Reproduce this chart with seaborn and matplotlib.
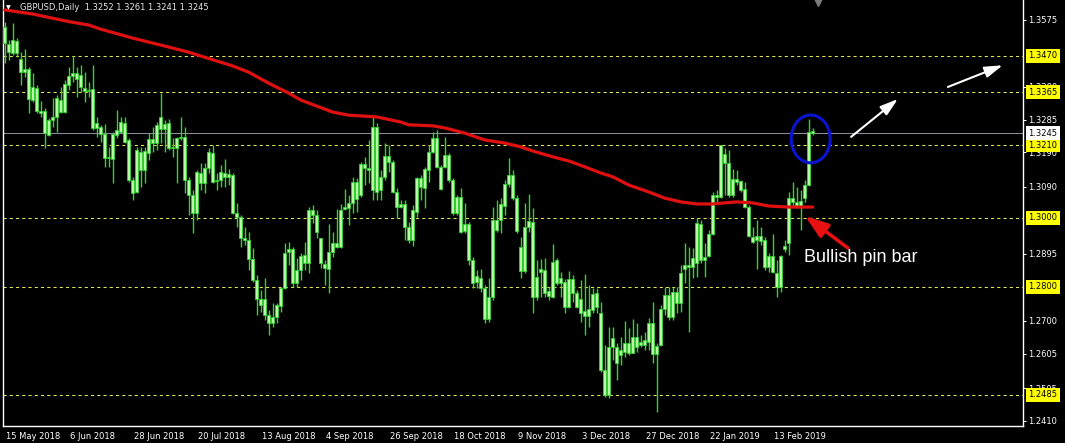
import matplotlib
matplotlib.use("Agg")
import matplotlib.pyplot as plt
import matplotlib.transforms as mtransforms
from matplotlib.patches import Ellipse
import seaborn as sns

# daily GBPUSD candles, 15 May 2018 .. 20 Feb 2019
opens = [
    1.3555, 1.3504, 1.3478, 1.3513, 1.3461, 1.3423, 1.3432, 1.3342, 1.3377, 1.3310,
    1.3310, 1.3240, 1.3284, 1.3293, 1.3342, 1.3307, 1.3385, 1.3412, 1.3420, 1.3415,
    1.3377, 1.3368, 1.3374, 1.3261, 1.3264, 1.3243, 1.3174, 1.3171, 1.3240, 1.3249,
    1.3275, 1.3226, 1.3110, 1.3075, 1.3191, 1.3139, 1.3188, 1.3229, 1.3217, 1.3258,
    1.3272, 1.3275, 1.3203, 1.3203, 1.3232, 1.3234, 1.3110, 1.3066, 1.3014, 1.3130,
    1.3101, 1.3145, 1.3188, 1.3107, 1.3110, 1.3130, 1.3119, 1.3124, 1.3014, 1.3002,
    1.2941, 1.2935, 1.2880, 1.2819, 1.2764, 1.2764, 1.2717, 1.2694, 1.2711, 1.2743,
    1.2796, 1.2900, 1.2909, 1.2810, 1.2848, 1.2868, 1.2868, 1.3022, 1.3008, 1.2941,
    1.2866, 1.2851, 1.2900, 1.2926, 1.2915, 1.3025, 1.3028, 1.3043, 1.3104, 1.3066,
    1.3156, 1.3145, 1.3081, 1.3264, 1.3081, 1.3119, 1.3180, 1.3162, 1.3075, 1.3031,
    1.3040, 1.2973, 1.2935, 1.3017, 1.3116, 1.3087, 1.3139, 1.3191, 1.3232, 1.3148,
    1.3148, 1.3182, 1.3110, 1.3014, 1.3060, 1.2961, 1.2982, 1.2877, 1.2813, 1.2825,
    1.2796, 1.2706, 1.2770, 1.2993, 1.2993, 1.3034, 1.3098, 1.3124, 1.3057, 1.2915,
    1.2845, 1.2973, 1.2988, 1.2770, 1.2842, 1.2848, 1.2787, 1.2770, 1.2877, 1.2810,
    1.2813, 1.2741, 1.2822, 1.2781, 1.2764, 1.2729, 1.2714, 1.2732, 1.2781, 1.2723,
    1.2557, 1.2485, 1.2624, 1.2624, 1.2601, 1.2610, 1.2636, 1.2607, 1.2653, 1.2630,
    1.2630, 1.2639, 1.2694, 1.2604, 1.2630, 1.2735, 1.2775, 1.2711, 1.2784, 1.2752,
    1.2851, 1.2862, 1.2857, 1.2868, 1.2982, 1.2877, 1.2889, 1.2953, 1.3066, 1.3060,
    1.3185, 1.3159, 1.3066, 1.3113, 1.3107, 1.3084, 1.3031, 1.2944, 1.2935, 1.2947,
    1.2935, 1.2857, 1.2889, 1.2839, 1.2799, 1.2909, 1.2926, 1.3057, 1.3046, 1.3034,
    1.3057, 1.3095, 1.3252,
]
highs = [
    1.3569, 1.3516, 1.3566, 1.3522, 1.3481, 1.3490, 1.3438, 1.3420, 1.3385, 1.3339,
    1.3319, 1.3290, 1.3348, 1.3357, 1.3380, 1.3400, 1.3438, 1.3470, 1.3438, 1.3444,
    1.3423, 1.3394, 1.3444, 1.3293, 1.3270, 1.3272, 1.3206, 1.3249, 1.3313, 1.3293,
    1.3293, 1.3232, 1.3119, 1.3206, 1.3206, 1.3206, 1.3246, 1.3264, 1.3278, 1.3362,
    1.3284, 1.3287, 1.3232, 1.3234, 1.3293, 1.3264, 1.3119, 1.3081, 1.3139, 1.3159,
    1.3159, 1.3203, 1.3211, 1.3130, 1.3154, 1.3171, 1.3142, 1.3130, 1.3043, 1.3008,
    1.2973, 1.2958, 1.2912, 1.2834, 1.2790, 1.2825, 1.2732, 1.2752, 1.2752, 1.2799,
    1.2926, 1.2929, 1.2915, 1.2883, 1.2897, 1.2929, 1.3031, 1.3037, 1.3022, 1.2941,
    1.2877, 1.2982, 1.2958, 1.3025, 1.3040, 1.3084, 1.3066, 1.3119, 1.3116, 1.3162,
    1.3177, 1.3226, 1.3296, 1.3275, 1.3139, 1.3217, 1.3211, 1.3168, 1.3087, 1.3051,
    1.3051, 1.2988, 1.3037, 1.3119, 1.3124, 1.3148, 1.3211, 1.3249, 1.3255, 1.3154,
    1.3234, 1.3188, 1.3116, 1.3066, 1.3087, 1.3043, 1.2988, 1.2886, 1.2848, 1.2851,
    1.2805, 1.2825, 1.3031, 1.3051, 1.3057, 1.3110, 1.3174, 1.3139, 1.3066, 1.2944,
    1.3043, 1.3069, 1.3028, 1.2877, 1.2880, 1.2883, 1.2799, 1.2924, 1.2883, 1.2842,
    1.2822, 1.2845, 1.2834, 1.2790, 1.2819, 1.2836, 1.2805, 1.2796, 1.2796, 1.2755,
    1.2630, 1.2682, 1.2682, 1.2636, 1.2653, 1.2700, 1.2680, 1.2706, 1.2694, 1.2659,
    1.2668, 1.2709, 1.2755, 1.2636, 1.2746, 1.2799, 1.2799, 1.2799, 1.2799, 1.2862,
    1.2926, 1.2915, 1.2912, 1.2998, 1.2993, 1.2926, 1.2964, 1.3075, 1.3081, 1.3211,
    1.3203, 1.3197, 1.3142, 1.3139, 1.3110, 1.3104, 1.3037, 1.2973, 1.2993, 1.2973,
    1.2944, 1.2897, 1.2953, 1.2877, 1.2892, 1.2935, 1.3075, 1.3104, 1.3090, 1.3081,
    1.3110, 1.3287, 1.3261,
]
lows = [
    1.3449, 1.3458, 1.3472, 1.3467, 1.3385, 1.3409, 1.3304, 1.3336, 1.3304, 1.3293,
    1.3203, 1.3237, 1.3264, 1.3249, 1.3304, 1.3304, 1.3371, 1.3394, 1.3351, 1.3365,
    1.3336, 1.3351, 1.3255, 1.3234, 1.3220, 1.3148, 1.3148, 1.3101, 1.3232, 1.3246,
    1.3217, 1.3104, 1.3051, 1.3072, 1.3090, 1.3101, 1.3168, 1.3191, 1.3197, 1.3217,
    1.3191, 1.3197, 1.3177, 1.3101, 1.3226, 1.3072, 1.3008, 1.2956, 1.2993, 1.3081,
    1.3072, 1.3130, 1.3101, 1.3081, 1.3090, 1.3090, 1.3095, 1.3011, 1.2973, 1.2915,
    1.2921, 1.2848, 1.2813, 1.2717, 1.2726, 1.2703, 1.2659, 1.2682, 1.2694, 1.2726,
    1.2793, 1.2862, 1.2799, 1.2799, 1.2819, 1.2848, 1.2839, 1.2985, 1.2941, 1.2854,
    1.2805, 1.2781, 1.2886, 1.2912, 1.2912, 1.3022, 1.2979, 1.3014, 1.3017, 1.3060,
    1.3095, 1.3101, 1.3051, 1.3051, 1.3051, 1.3110, 1.3133, 1.3072, 1.2998, 1.3028,
    1.2935, 1.2926, 1.2918, 1.3002, 1.3051, 1.3028, 1.3104, 1.3188, 1.3145, 1.3081,
    1.3145, 1.3104, 1.3008, 1.3008, 1.2956, 1.2956, 1.2862, 1.2796, 1.2796, 1.2784,
    1.2694, 1.2697, 1.2761, 1.2958, 1.2956, 1.3008, 1.3090, 1.3051, 1.2956, 1.2825,
    1.2839, 1.2958, 1.2723, 1.2761, 1.2770, 1.2770, 1.2761, 1.2767, 1.2805, 1.2770,
    1.2723, 1.2738, 1.2755, 1.2738, 1.2697, 1.2659, 1.2682, 1.2723, 1.2723, 1.2552,
    1.2479, 1.2476, 1.2587, 1.2528, 1.2572, 1.2595, 1.2601, 1.2607, 1.2610, 1.2624,
    1.2616, 1.2616, 1.2578, 1.2436, 1.2627, 1.2717, 1.2703, 1.2703, 1.2723, 1.2726,
    1.2810, 1.2668, 1.2825, 1.2828, 1.2868, 1.2828, 1.2886, 1.2950, 1.3046, 1.3057,
    1.3066, 1.3060, 1.3060, 1.3095, 1.3075, 1.3028, 1.2944, 1.2926, 1.2851, 1.2921,
    1.2848, 1.2842, 1.2839, 1.2770, 1.2784, 1.2900, 1.2892, 1.3031, 1.3028, 1.2964,
    1.3046, 1.3092, 1.3241,
]
closes = [
    1.3507, 1.3481, 1.3516, 1.3478, 1.3423, 1.3432, 1.3345, 1.3380, 1.3310, 1.3304,
    1.3246, 1.3284, 1.3293, 1.3348, 1.3307, 1.3388, 1.3412, 1.3420, 1.3403, 1.3380,
    1.3368, 1.3371, 1.3261, 1.3275, 1.3243, 1.3174, 1.3177, 1.3243, 1.3255, 1.3278,
    1.3220, 1.3110, 1.3072, 1.3197, 1.3139, 1.3194, 1.3229, 1.3217, 1.3270, 1.3293,
    1.3258, 1.3203, 1.3206, 1.3232, 1.3234, 1.3110, 1.3066, 1.3014, 1.3133, 1.3101,
    1.3145, 1.3191, 1.3104, 1.3110, 1.3133, 1.3119, 1.3127, 1.3014, 1.3002, 1.2941,
    1.2935, 1.2880, 1.2819, 1.2764, 1.2746, 1.2717, 1.2694, 1.2711, 1.2746, 1.2796,
    1.2897, 1.2909, 1.2810, 1.2848, 1.2889, 1.2892, 1.3022, 1.3008, 1.2958, 1.2868,
    1.2854, 1.2900, 1.2926, 1.2915, 1.3022, 1.3031, 1.3043, 1.3104, 1.3054, 1.3156,
    1.3145, 1.3139, 1.3264, 1.3075, 1.3119, 1.3180, 1.3162, 1.3075, 1.3031, 1.3040,
    1.2973, 1.2935, 1.3022, 1.3116, 1.3090, 1.3142, 1.3191, 1.3232, 1.3148, 1.3084,
    1.3182, 1.3110, 1.3014, 1.3060, 1.2958, 1.2982, 1.2877, 1.2810, 1.2831, 1.2796,
    1.2706, 1.2770, 1.2993, 1.2964, 1.3040, 1.3098, 1.3124, 1.3057, 1.2961, 1.2845,
    1.2973, 1.2990, 1.2770, 1.2828, 1.2851, 1.2781, 1.2773, 1.2871, 1.2810, 1.2825,
    1.2741, 1.2822, 1.2781, 1.2741, 1.2723, 1.2714, 1.2735, 1.2778, 1.2741, 1.2557,
    1.2485, 1.2624, 1.2650, 1.2578, 1.2616, 1.2636, 1.2607, 1.2653, 1.2624, 1.2639,
    1.2645, 1.2694, 1.2604, 1.2627, 1.2735, 1.2775, 1.2711, 1.2784, 1.2752, 1.2839,
    1.2862, 1.2857, 1.2883, 1.2985, 1.2877, 1.2886, 1.2953, 1.3066, 1.3060, 1.3211,
    1.3159, 1.3066, 1.3113, 1.3104, 1.3081, 1.3031, 1.2947, 1.2929, 1.2947, 1.2932,
    1.2857, 1.2889, 1.2842, 1.2799, 1.2889, 1.2918, 1.3057, 1.3046, 1.3034, 1.3049,
    1.3095, 1.3249, 1.3245,
]

# moving average (red line), sampled along the curve
ma_bars = [0, 7, 16, 21, 24, 32, 41, 46, 49, 57, 61, 66, 71, 74, 82, 86, 93, 99, 101,
           107, 110, 115, 120, 125, 129, 132, 137, 141, 145, 149, 152, 156, 161, 165,
           169, 173, 177, 183, 187, 191, 196, 202]
ma_vals = [1.3604, 1.3592, 1.3570, 1.3560, 1.3548, 1.3522, 1.3496, 1.3481, 1.3470,
           1.3441, 1.3423, 1.3391, 1.3362, 1.3342, 1.3307, 1.3298, 1.3293, 1.3278,
           1.3270, 1.3267, 1.3261, 1.3246, 1.3226, 1.3217, 1.3206, 1.3194, 1.3177,
           1.3165, 1.3148, 1.3130, 1.3119, 1.3095, 1.3075, 1.3057, 1.3046, 1.3040,
           1.3040, 1.3046, 1.3043, 1.3034, 1.3031, 1.3031]

date_ticks = [0, 16, 32, 48, 64, 80, 96, 112, 128, 144, 160, 176, 192]
date_labels = ["15 May 2018", "6 Jun 2018", "28 Jun 2018", "20 Jul 2018", "13 Aug 2018",
               "4 Sep 2018", "26 Sep 2018", "18 Oct 2018", "9 Nov 2018", "3 Dec 2018",
               "27 Dec 2018", "22 Jan 2019", "13 Feb 2019"]
# scale labels (the ones fully covered by the level boxes are left out)
price_ticks = [1.3575, 1.3380, 1.3285, 1.3190, 1.3090, 1.2895,
               1.2700, 1.2605, 1.2505, 1.2410]
levels = [1.3470, 1.3365, 1.3210, 1.3000, 1.2800, 1.2485]
bid = 1.3245

W, H = 1065, 443
sns.set_theme(style="dark", rc={"axes.facecolor": "black", "figure.facecolor": "black"})
plt.rcParams["font.family"] = ["DejaVu Sans"]

fig = plt.figure(figsize=(W / 100, H / 100), dpi=100)
ax = fig.add_axes([3 / W, 17 / H, 1020 / W, 426 / H])
ax.set_facecolor("black")
ax.grid(False)

bars = list(range(len(closes)))

for lv in levels:
    ax.axhline(lv, color="#e6e650", lw=0.75, ls=(0, (3, 3)), zorder=1)
ax.axhline(bid, color="#8c8ca0", lw=0.75, zorder=1)

# candles
ax.vlines(bars, lows, highs, color="#2fd62f", lw=1.0, zorder=2)
bottoms = [min(o, c) for o, c in zip(opens, closes)]
heights = [abs(c - o) for o, c in zip(opens, closes)]
ax.bar(bars, heights, bottom=bottoms, width=0.7, color="#b8f8a6",
       edgecolor="#2fd62f", linewidth=0.6, zorder=3)

sns.lineplot(x=ma_bars, y=ma_vals, ax=ax, color="#e01010", lw=2.3, zorder=4)

ax.set_xlim(-0.425, 254.575)
ax.set_ylim(1.23947, 1.36327)

# annotations
ax.add_patch(Ellipse((201.5, 1.3229), width=9.75, height=0.0139, fill=False,
                     ec="#0a14d0", lw=2.2, zorder=6))
white_arrow = dict(arrowstyle="-|>,head_length=0.9,head_width=0.28", color="white",
                   lw=1.5, mutation_scale=12, shrinkA=0, shrinkB=0)
ax.annotate("", xy=(223.3, 1.3345), xytext=(211.6, 1.3235), arrowprops=white_arrow, zorder=6)
ax.annotate("", xy=(249.5, 1.3443), xytext=(235.8, 1.3380), arrowprops=white_arrow, zorder=6)
ax.annotate("", xy=(200.1, 1.3005), xytext=(210.8, 1.2912), zorder=6,
            arrowprops=dict(arrowstyle="-|>,head_length=1.0,head_width=0.35",
                            color="#e81010", lw=2.5, mutation_scale=14,
                            shrinkA=0, shrinkB=0))
ax.text(199.8, 1.2883, "Bullish pin bar", color="white", fontsize=13,
        family=["Liberation Sans", "DejaVu Sans"], ha="left", va="center", zorder=6)

# axes styling
for side in ["left", "right", "bottom"]:
    ax.spines[side].set_visible(True)
    ax.spines[side].set_color("white")
    ax.spines[side].set_linewidth(1.0)
ax.spines["top"].set_visible(False)

ax.yaxis.tick_right()
ax.set_yticks(price_ticks)
ax.set_yticklabels([f"{p:.4f}" for p in price_ticks])
ax.set_xticks(date_ticks)
ax.set_xticklabels(date_labels, ha="left")
ax.tick_params(axis="both", colors="white", labelsize=6, width=0.7, direction="out")
ax.tick_params(axis="y", length=2.5, pad=1.5, left=False, right=True)
ax.tick_params(axis="x", length=3, pad=1.5)
shift = mtransforms.ScaledTranslation(1 / 100, 0, fig.dpi_scale_trans)
for lab in ax.get_xticklabels():
    lab.set_transform(lab.get_transform() + shift)

# price boxes on the right scale
box_tr = mtransforms.blended_transform_factory(ax.transAxes, ax.transData) + \
    mtransforms.ScaledTranslation(5.5 / 100, 0, fig.dpi_scale_trans)
for lv in levels:
    ax.text(1.0, lv, f"{lv:.4f}", transform=box_tr, ha="left", va="center", fontsize=6,
            color="black", clip_on=False, zorder=10,
            bbox=dict(boxstyle="square,pad=0.3", fc="#ffff00", ec="none"))
ax.text(1.0, bid, f"{bid:.4f}", transform=box_tr, ha="left", va="center", fontsize=6,
        color="black", clip_on=False, zorder=10,
        bbox=dict(boxstyle="square,pad=0.3", fc="white", ec="none"))

# header
fig.text(6 / W, 1 - 8 / H, "\u25bc", color="white", fontsize=4.5, va="center", ha="left")
fig.text(20 / W, 1 - 8 / H,
         f"GBPUSD,Daily  {opens[-1]:.4f} {highs[-1]:.4f} {lows[-1]:.4f} {closes[-1]:.4f}",
         color="#e8e8e8", fontsize=6, va="center", ha="left")
top_tr = mtransforms.blended_transform_factory(ax.transData, ax.transAxes)
ax.plot([203.3], [0.995], marker="v", ms=6, color="#7a7a7a", transform=top_tr,
        clip_on=False, zorder=10)

fig.savefig("out.png", dpi=100, facecolor="black")
